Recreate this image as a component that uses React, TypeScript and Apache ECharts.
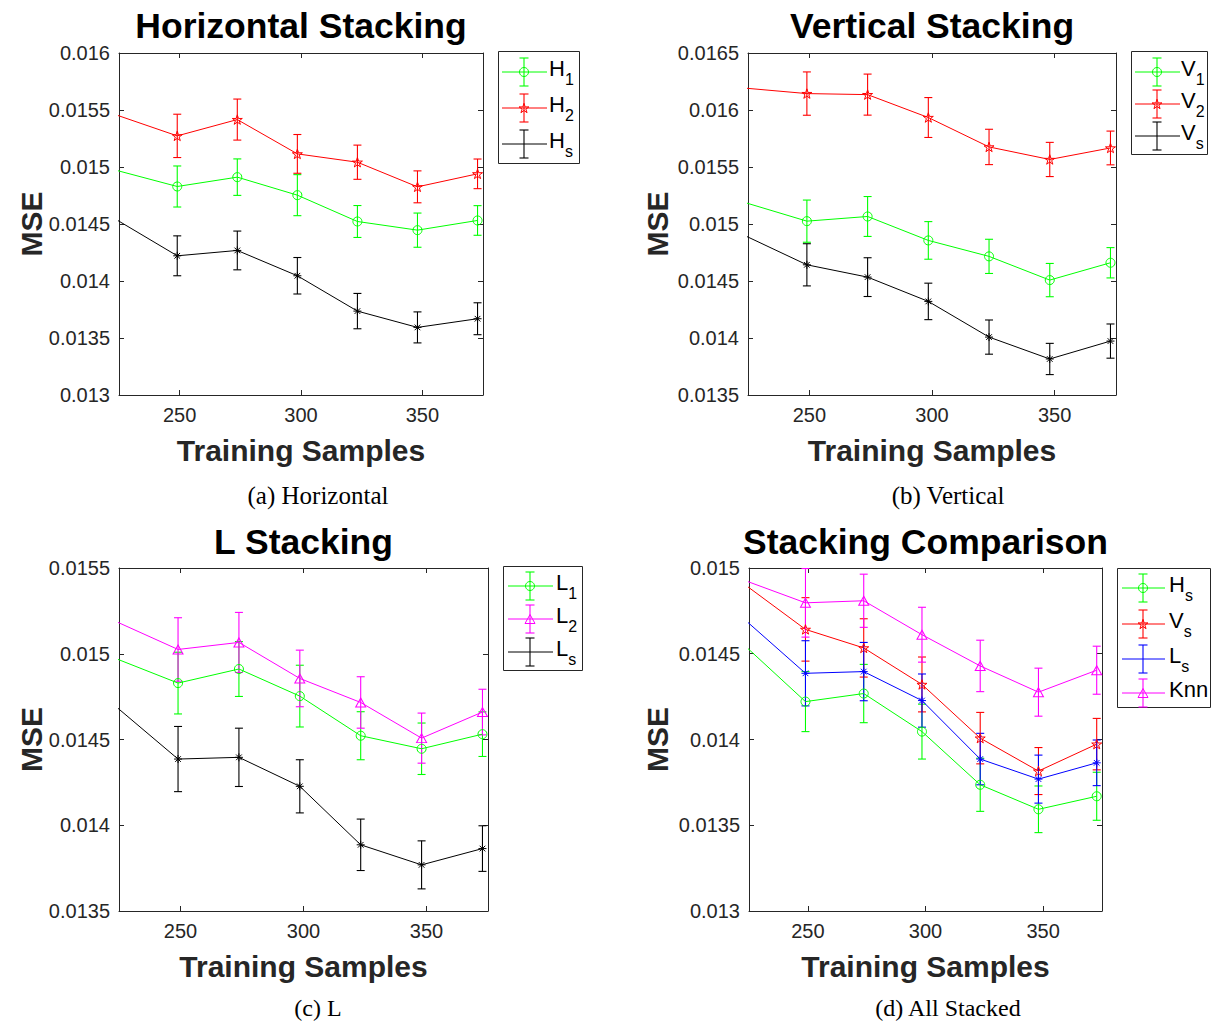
import React, { useEffect, useRef } from 'react';
import * as echarts from 'echarts';

// ---------- data ----------
const X = [224.25, 249, 273.75, 298.5, 323.25, 348, 372.75];
const X_MIN = 225;
const X_MAX = 375;
const xTicks = [250, 300, 350];

const yTicksA = [0.013, 0.0135, 0.014, 0.0145, 0.015, 0.0155, 0.016];
const yTicksB = [0.0135, 0.014, 0.0145, 0.015, 0.0155, 0.016, 0.0165];
const yTicksC = [0.0135, 0.014, 0.0145, 0.015, 0.0155];
const yTicksD = [0.013, 0.0135, 0.014, 0.0145, 0.015];

const H1 = [0.014969, 0.014829, 0.014911, 0.014753, 0.014522, 0.014446, 0.014531];
const H1err = [0.00018, 0.00018, 0.00016, 0.00018, 0.00014, 0.00015, 0.00013];
const H2 = [0.015454, 0.015273, 0.015416, 0.015115, 0.015042, 0.014826, 0.01494];
const H2err = [0.00019, 0.00019, 0.00018, 0.00017, 0.00015, 0.00014, 0.00013];
const Hs = [0.014534, 0.014221, 0.014268, 0.014046, 0.013736, 0.013593, 0.013669];
const HsErr = [0.00018, 0.000175, 0.00017, 0.00016, 0.000155, 0.000136, 0.00014];

const V1 = [0.015185, 0.015025, 0.015066, 0.014856, 0.014716, 0.014508, 0.01466];
const V1err = [0.00019, 0.000185, 0.000175, 0.000165, 0.00015, 0.000146, 0.000133];
const V2 = [0.016191, 0.016144, 0.016135, 0.015934, 0.015676, 0.015566, 0.015667];
const V2err = [0.00019, 0.00019, 0.00018, 0.000175, 0.000155, 0.00015, 0.000148];
const Vs = [0.014893, 0.014642, 0.014534, 0.014321, 0.014008, 0.013816, 0.013973];
const VsErr = [0.00019, 0.000185, 0.00017, 0.00016, 0.00015, 0.000137, 0.00015];

const L1 = H1;
const L1err = H1err;
const L2 = V1;
const L2err = V1err;
const Ls = [0.014686, 0.014386, 0.014396, 0.014227, 0.013886, 0.013769, 0.013864];
const LsErr = [0.00019, 0.00019, 0.00017, 0.000155, 0.00015, 0.00014, 0.000133];

const Knn = [0.014922, 0.014797, 0.014809, 0.014611, 0.014429, 0.014276, 0.014404];
const KnnErr = [0.0002, 0.0002, 0.000155, 0.00016, 0.00015, 0.00014, 0.00014];

// ---------- styles ----------
const FONT = '"Liberation Sans", Arial, Helvetica, sans-serif';
const SERIF = '"Liberation Serif", "Times New Roman", serif';
const AX = '#262626';
const GREEN = '#00ff00';
const RED = '#ff0000';
const BLACK = '#000000';
const MAGENTA = '#ff00ff';
const BLUE = '#0000ff';

const STAR_PATH =
  'path://M0,-1L0.2245,-0.309L0.951,-0.309L0.3633,0.118L0.588,0.809L0,0.382L-0.588,0.809L-0.3633,0.118L-0.951,-0.309L-0.2245,-0.309Z';
const AST_PATH =
  'path://M0,-1L0,1M-1,0L1,0M-0.7071,-0.7071L0.7071,0.7071M-0.7071,0.7071L0.7071,-0.7071';

const STAR_PTS = [
  [0, -1], [0.2245, -0.309], [0.951, -0.309], [0.3633, 0.118], [0.588, 0.809],
  [0, 0.382], [-0.588, 0.809], [-0.3633, 0.118], [-0.951, -0.309], [-0.2245, -0.309],
];

const ADV: Record<string, number> = { H: 0.722, V: 0.667, L: 0.556 };

type Curve = { main: string; sub: string; mean: number[]; err: number[]; color: string; marker: string };

const panels = [
  {
    grid: { left: 119, top: 53, width: 364, height: 342 },
    ymin: 0.013, ymax: 0.016, yTicks: yTicksA,
    title: 'Horizontal Stacking', caption: '(a) Horizontal', capX: 318, capY: 495, capSize: 25,
    titleY: 26, nameY: 450, mseX: 31,
    curves: [
      { main: 'H', sub: '1', mean: H1, err: H1err, color: GREEN, marker: 'circle' },
      { main: 'H', sub: '2', mean: H2, err: H2err, color: RED, marker: 'star' },
      { main: 'H', sub: 's', mean: Hs, err: HsErr, color: BLACK, marker: 'ast' },
    ] as Curve[],
    legend: { x: 498, y: 51, w: 81, h: 112, lx1: 502, lx2: 547, mx: 524, tx: 549, ys: [72, 108, 144] },
  },
  {
    grid: { left: 748, top: 53, width: 368, height: 342 },
    ymin: 0.0135, ymax: 0.0165, yTicks: yTicksB,
    title: 'Vertical Stacking', caption: '(b) Vertical', capX: 948, capY: 495, capSize: 25,
    titleY: 26, nameY: 450, mseX: 657,
    curves: [
      { main: 'V', sub: '1', mean: V1, err: V1err, color: GREEN, marker: 'circle' },
      { main: 'V', sub: '2', mean: V2, err: V2err, color: RED, marker: 'star' },
      { main: 'V', sub: 's', mean: Vs, err: VsErr, color: BLACK, marker: 'ast' },
    ] as Curve[],
    legend: { x: 1131, y: 51, w: 76, h: 103, lx1: 1135, lx2: 1180, mx: 1157, tx: 1181, ys: [72, 104, 136] },
  },
  {
    grid: { left: 119, top: 568, width: 369, height: 343 },
    ymin: 0.0135, ymax: 0.0155, yTicks: yTicksC,
    title: 'L Stacking', caption: '(c) L', capX: 318, capY: 1008, capSize: 24,
    titleY: 542, nameY: 966, mseX: 31,
    curves: [
      { main: 'L', sub: '1', mean: L1, err: L1err, color: GREEN, marker: 'circle' },
      { main: 'L', sub: '2', mean: L2, err: L2err, color: MAGENTA, marker: 'tri' },
      { main: 'L', sub: 's', mean: Ls, err: LsErr, color: BLACK, marker: 'ast' },
    ] as Curve[],
    legend: { x: 503, y: 566, w: 79, h: 104, lx1: 508, lx2: 553, mx: 530, tx: 556, ys: [586, 619, 652] },
  },
  {
    grid: { left: 749, top: 568, width: 353, height: 343 },
    ymin: 0.013, ymax: 0.015, yTicks: yTicksD,
    title: 'Stacking Comparison', caption: '(d) All Stacked', capX: 948, capY: 1008, capSize: 24,
    titleY: 542, nameY: 966, mseX: 657,
    curves: [
      { main: 'H', sub: 's', mean: Hs, err: HsErr, color: GREEN, marker: 'circle' },
      { main: 'V', sub: 's', mean: Vs, err: VsErr, color: RED, marker: 'star' },
      { main: 'L', sub: 's', mean: Ls, err: LsErr, color: BLUE, marker: 'ast' },
      { main: 'Knn', sub: '', mean: Knn, err: KnnErr, color: MAGENTA, marker: 'tri' },
    ] as Curve[],
    legend: { x: 1117, y: 568, w: 93, h: 139, lx1: 1122, lx2: 1165, mx: 1143, tx: 1169, ys: [588, 624, 659, 693] },
  },
];

function symbolOf(marker: string) {
  if (marker === 'circle') return { symbol: 'circle', size: 9 as any };
  if (marker === 'star') return { symbol: STAR_PATH, size: 10 as any };
  if (marker === 'ast') return { symbol: AST_PATH, size: 8 as any };
  return { symbol: 'triangle', size: [10, 9] as any };
}

function legendMarker(marker: string, cx: number, cy: number, color: string): any {
  const style = { fill: 'none', stroke: color, lineWidth: 1 };
  if (marker === 'circle') return { type: 'circle', shape: { cx, cy, r: 4.5 }, style };
  if (marker === 'star')
    return { type: 'polygon', shape: { points: STAR_PTS.map(([a, b]) => [cx + a * 5.2, cy + b * 5.2 + 0.5]) }, style };
  if (marker === 'tri')
    return { type: 'polygon', shape: { points: [[cx, cy - 4.5], [cx + 5, cy + 4.5], [cx - 5, cy + 4.5]] }, style };
  const r = 4;
  const d = r * 0.7071;
  return {
    type: 'group',
    children: [
      [0, -r, 0, r], [-r, 0, r, 0], [-d, -d, d, d], [-d, d, d, -d],
    ].map(([a, b, c, e]) => ({ type: 'line', shape: { x1: cx + a, y1: cy + b, x2: cx + c, y2: cy + e }, style })),
  };
}

function buildOption() {
  const grid: any[] = [];
  const xAxis: any[] = [];
  const yAxis: any[] = [];
  const series: any[] = [];
  const graphic: any[] = [];

  panels.forEach((p, pi) => {
    grid.push({ ...p.grid, containLabel: false, show: false });
    const xBase = {
      type: 'value', gridIndex: pi, min: X_MIN, max: X_MAX,
      splitLine: { show: false },
      axisLine: { show: true, onZero: false, lineStyle: { color: AX, width: 1 } },
    };
    xAxis.push({
      ...xBase, position: 'bottom',
      axisTick: { show: true, inside: true, length: 5, lineStyle: { color: AX }, customValues: xTicks },
      axisLabel: { show: true, customValues: xTicks, fontSize: 20, fontFamily: FONT, color: AX, margin: 10, formatter: (v: number) => String(v) },
    });
    xAxis.push({
      ...xBase, position: 'top',
      axisTick: { show: true, inside: true, length: 5, lineStyle: { color: AX }, customValues: xTicks },
      axisLabel: { show: false },
    });
    const yBase = {
      type: 'value', gridIndex: pi, min: p.ymin, max: p.ymax,
      splitLine: { show: false },
      axisLine: { show: true, onZero: false, lineStyle: { color: AX, width: 1 } },
    };
    yAxis.push({
      ...yBase, position: 'left',
      axisTick: { show: true, inside: true, length: 5, lineStyle: { color: AX }, customValues: p.yTicks },
      axisLabel: { show: true, customValues: p.yTicks, fontSize: 20, fontFamily: FONT, color: AX, margin: 9, formatter: (v: number) => String(+v.toFixed(6)) },
    });
    yAxis.push({
      ...yBase, position: 'right',
      axisTick: { show: true, inside: true, length: 5, lineStyle: { color: AX }, customValues: p.yTicks },
      axisLabel: { show: false },
    });

    const xi = pi * 2;
    const yi = pi * 2;
    p.curves.forEach((c) => {
      const sym = symbolOf(c.marker);
      const errData = X.map((x, i) => [x, c.mean[i], c.err[i]]).filter((d) => d[0] >= X_MIN);
      series.push({
        type: 'custom', xAxisIndex: xi, yAxisIndex: yi, clip: true, silent: true,
        data: errData,
        renderItem: (params: any, api: any) => {
          const x = api.value(0);
          const y = api.value(1);
          const e = api.value(2);
          const top = api.coord([x, y + e]);
          const bot = api.coord([x, y - e]);
          const cap = 4;
          const st = { stroke: c.color, lineWidth: 1.1 };
          return {
            type: 'group',
            children: [
              { type: 'line', shape: { x1: top[0], y1: top[1], x2: bot[0], y2: bot[1] }, style: st },
              { type: 'line', shape: { x1: top[0] - cap, y1: top[1], x2: top[0] + cap, y2: top[1] }, style: st },
              { type: 'line', shape: { x1: bot[0] - cap, y1: bot[1], x2: bot[0] + cap, y2: bot[1] }, style: st },
            ],
          };
        },
      });
      series.push({
        type: 'line', xAxisIndex: xi, yAxisIndex: yi, clip: true, silent: true,
        name: c.main + c.sub,
        symbol: sym.symbol, symbolSize: sym.size, symbolKeepAspect: true,
        showSymbol: true,
        itemStyle: { color: 'rgba(0,0,0,0)', borderColor: c.color, borderWidth: 1 },
        lineStyle: { color: c.color, width: 1 },
        emphasis: { disabled: true },
        data: X.map((x, i) => (i === 0 ? { value: [x, c.mean[i]], symbol: 'none' } : [x, c.mean[i]])),
      });
    });

    const cx = p.grid.left + p.grid.width / 2;
    const cy = p.grid.top + p.grid.height / 2;
    graphic.push({
      type: 'text', x: cx, y: p.titleY,
      style: { text: p.title, fontSize: 35.5, fontWeight: 'bold', fontFamily: FONT, fill: '#000', align: 'center', verticalAlign: 'middle' },
    });
    graphic.push({
      type: 'text', x: cx, y: p.nameY,
      style: { text: 'Training Samples', fontSize: 30, fontWeight: 'bold', fontFamily: FONT, fill: AX, align: 'center', verticalAlign: 'middle' },
    });
    graphic.push({
      type: 'text', x: p.mseX, y: cy, rotation: Math.PI / 2,
      style: { text: 'MSE', fontSize: 30, fontWeight: 'bold', fontFamily: FONT, fill: AX, align: 'center', verticalAlign: 'middle' },
    });
    graphic.push({
      type: 'text', x: p.capX, y: p.capY,
      style: { text: p.caption, fontSize: p.capSize, fontFamily: SERIF, fill: '#000', align: 'center', verticalAlign: 'middle' },
    });

    // legend
    const lg = p.legend;
    graphic.push({
      type: 'rect', shape: { x: lg.x + 0.5, y: lg.y + 0.5, width: lg.w, height: lg.h },
      style: { fill: '#fff', stroke: AX, lineWidth: 1 }, z: 10,
    });
    p.curves.forEach((c, k) => {
      const ey = lg.ys[k];
      const st = { stroke: c.color, lineWidth: 1.1 };
      graphic.push({ type: 'line', z: 11, shape: { x1: lg.lx1, y1: ey, x2: lg.lx2, y2: ey }, style: { stroke: c.color, lineWidth: 1 } });
      graphic.push({ type: 'line', z: 11, shape: { x1: lg.mx, y1: ey - 14, x2: lg.mx, y2: ey + 14 }, style: st });
      graphic.push({ type: 'line', z: 11, shape: { x1: lg.mx - 4.5, y1: ey - 14, x2: lg.mx + 4.5, y2: ey - 14 }, style: st });
      graphic.push({ type: 'line', z: 11, shape: { x1: lg.mx - 4.5, y1: ey + 14, x2: lg.mx + 4.5, y2: ey + 14 }, style: st });
      const m = legendMarker(c.marker, lg.mx, ey, c.color);
      graphic.push({ ...m, z: 12 });
      graphic.push({
        type: 'text', z: 12, x: lg.tx, y: ey - 3.3,
        style: { text: c.main, fontSize: 22, fontFamily: FONT, fill: '#000', align: 'left', verticalAlign: 'middle' },
      });
      if (c.sub) {
        graphic.push({
          type: 'text', z: 12, x: lg.tx + (ADV[c.main] || 0.7) * 22, y: ey + 7.5,
          style: { text: c.sub, fontSize: 16, fontFamily: FONT, fill: '#000', align: 'left', verticalAlign: 'middle' },
        });
      }
    });
  });

  return {
    animation: false,
    backgroundColor: '#ffffff',
    grid, xAxis, yAxis, series, graphic,
  };
}

export default function App() {
  const ref = useRef<HTMLDivElement>(null);
  useEffect(() => {
    if (!ref.current) return;
    const chart = echarts.init(ref.current, null, { renderer: 'svg' });
    chart.setOption(buildOption() as any);
    return () => chart.dispose();
  }, []);
  return (
    <div
      ref={ref}
      style={{ position: 'absolute', left: 0, top: 0, width: 1211, height: 1022, background: '#fff' }}
    />
  );
}
